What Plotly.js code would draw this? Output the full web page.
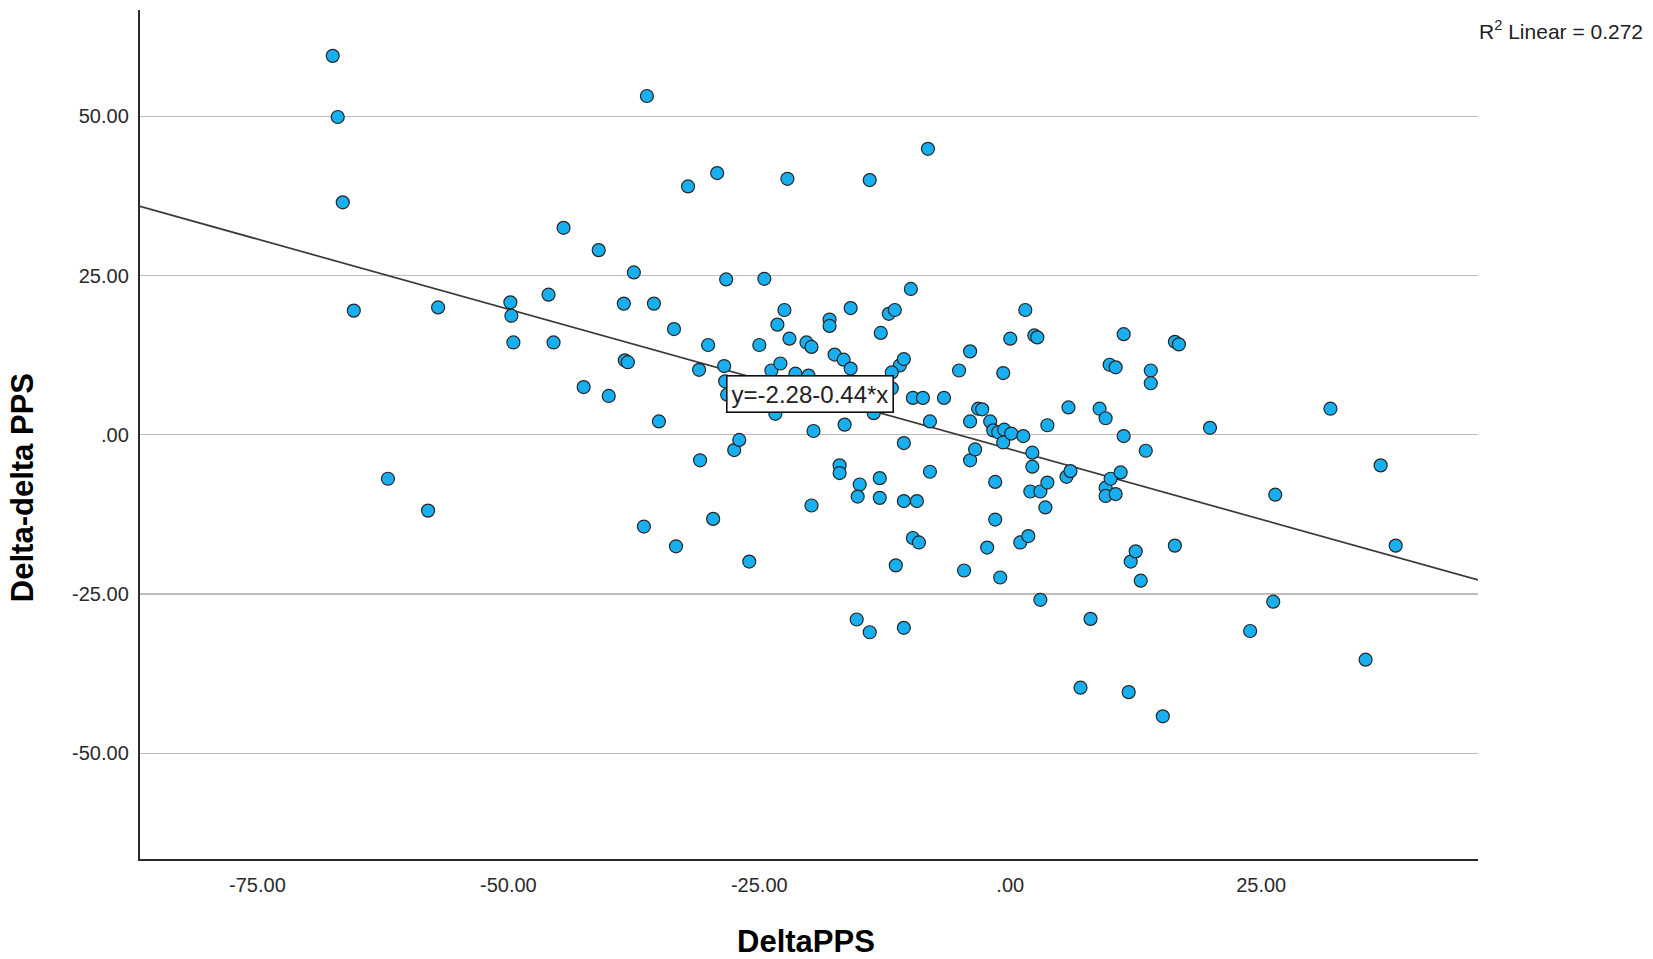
<!DOCTYPE html>
<html>
<head>
<meta charset="utf-8">
<script src="https://cdn.plot.ly/plotly-3.0.1.min.js"></script>
<style>html,body{margin:0;padding:0;background:#fff;}#chart{width:1653px;height:959px;}</style>
</head>
<body>
<div id="chart"></div>
<script>
// DeltaPPS (x) values
var deltaPPS = [
  -67.5,-67.0,-66.5,-65.4,-62.0,-58.0,-57.0,-49.8,-49.7,-49.5,
  -46.0,-45.5,-44.5,-42.5,-41.0,-40.0,-38.5,-38.4,-38.1,-37.5,
  -36.5,-36.2,-35.5,-35.0,-33.5,-33.3,-32.1,-31.0,-30.9,-30.1,
  -29.6,-29.2,-28.5,-28.4,-28.2,-28.3,-27.5,-27.0,-26.0,-25.0,
  -24.5,-23.8,-23.4,-23.2,-22.9,-22.5,-22.2,-22.0,-21.4,-20.3,
  -20.1,-19.8,-19.8,-19.6,-18.0,-18.0,-17.5,-17.0,-17.0,-16.6,
  -16.5,-15.9,-15.9,-15.3,-15.0,-15.2,-14.0,-14.0,-13.6,-13.0,
  -13.0,-12.9,-12.1,-11.8,-11.5,-11.4,-11.0,-11.8,-10.6,-10.6,
  -10.6,-10.6,-9.9,-9.7,-9.7,-9.1,-9.3,-8.7,-8.2,-8.0,
  -8.0,-6.6,-5.1,-4.6,-4.0,-4.0,-4.0,-3.5,-3.2,-2.8,
  -2.3,-2.0,-1.5,-1.5,-1.7,-1.2,-1.0,-0.7,-0.6,-0.7,
  0.0,0.1,1.0,1.3,1.5,1.8,2.2,2.2,2.0,2.4,
  2.7,3.0,3.0,3.5,3.7,3.7,5.6,5.8,6.0,7.0,
  8.0,8.9,9.5,9.5,9.5,9.9,10.0,10.5,10.5,11.0,
  11.3,11.3,11.8,12.0,12.5,13.0,13.5,14.0,14.0,15.2,
  16.4,16.4,16.8,19.9,23.9,26.2,26.4,31.9,35.4,36.9,
  38.4
];
// Delta-delta PPS (y) values
var deltaDeltaPPS = [
  59.5,49.9,36.5,19.5,-6.9,-11.9,20.0,20.8,18.7,14.5,
  22.0,14.5,32.5,7.5,29.0,6.1,20.6,11.7,11.4,25.5,
  -14.4,53.2,20.6,2.1,16.6,-17.5,39.0,10.2,-4.0,14.1,
  -13.2,41.1,10.8,8.4,6.3,24.4,-2.4,-0.8,-19.9,14.1,
  24.5,10.1,3.3,17.3,11.2,19.6,40.2,15.1,9.6,14.5,
  9.3,13.8,-11.1,0.6,18.1,17.1,12.6,-4.8,-6.0,11.8,
  1.6,10.4,19.9,-29.0,-7.8,-9.7,40.0,-31.0,3.4,-6.8,
  -9.9,16.0,19.0,7.3,19.6,-20.5,10.9,9.8,11.9,-1.3,
  -10.4,-30.3,22.9,5.8,-16.2,-16.9,-10.4,5.8,44.9,2.1,
  -5.8,5.8,10.1,-21.3,13.1,2.1,-4.0,-2.3,4.1,4.0,
  -17.7,2.1,-7.4,-13.3,0.7,0.4,-22.4,9.7,0.8,-1.2,
  15.1,0.2,-16.9,-0.2,19.6,-15.9,-2.8,-5.0,-8.9,15.6,
  15.3,-8.9,-25.9,-11.4,1.5,-7.5,-6.6,4.3,-5.7,-39.7,
  -28.9,4.1,2.6,-8.3,-9.6,11.0,-6.9,10.6,-9.3,-5.9,
  15.8,-0.2,-40.4,-19.9,-18.3,-22.9,-2.5,10.1,8.1,-44.2,
  -17.4,14.6,14.2,1.1,-30.8,-26.2,-9.4,4.1,-35.3,-4.8,
  -17.4
];
// Fit line end points (y = -2.28 - 0.44*x) at the axis limits
var fitX = [-86.7, 46.6];
var fitY = [35.87, -22.78];

var xTickVals = [-75, -50, -25, 0, 25];
var xTickText = ["-75.00", "-50.00", "-25.00", ".00", "25.00"];
var yTickVals = [50, 25, 0, -25, -50];
var yTickText = ["50.00", "25.00", ".00", "-25.00", "-50.00"];

var xTitle = "DeltaPPS";
var yTitle = "Delta-delta PPS";
var fitLabel = "y=-2.28-0.44*x";
var r2Label = "R<sup>2</sup> Linear = 0.272";

var FONT = "Liberation Sans, Arial, Helvetica, sans-serif";

var traces = [
  {
    type: "scatter", mode: "lines",
    x: fitX, y: fitY,
    line: {color: "#3a3a3a", width: 1.7},
    hoverinfo: "skip", showlegend: false
  },
  {
    type: "scatter", mode: "markers",
    x: deltaPPS, y: deltaDeltaPPS,
    marker: {size: 13, color: "#17AFEF", line: {color: "#262626", width: 1.2}},
    showlegend: false
  }
];

var layout = {
  width: 1653, height: 959,
  margin: {l: 140, r: 175, t: 10, b: 100, pad: 0},
  paper_bgcolor: "#ffffff", plot_bgcolor: "#ffffff",
  font: {family: FONT, color: "#222"},
  showlegend: false,
  xaxis: {
    range: [-86.7, 46.6],
    tickmode: "array", tickvals: xTickVals, ticktext: xTickText,
    tickfont: {size: 20, color: "#2a2a2a", family: FONT},
    ticks: "", showgrid: false, zeroline: false,
    showline: true, linecolor: "#2b2b2b", linewidth: 2.2,
    ticklabelstandoff: 7,
    automargin: false
  },
  yaxis: {
    range: [-66.6, 66.7],
    tickmode: "array", tickvals: yTickVals, ticktext: yTickText,
    tickfont: {size: 20, color: "#2a2a2a", family: FONT},
    ticks: "", showgrid: true, gridcolor: "#bdbdbd", gridwidth: 1.3,
    zeroline: false,
    showline: true, linecolor: "#2b2b2b", linewidth: 2.2,
    ticklabelstandoff: 5,
    automargin: false
  },
  annotations: [
    {
      xref: "x", yref: "y", x: -20.0, y: 6.4,
      text: fitLabel, showarrow: false,
      font: {size: 24, color: "#222", family: FONT},
      bgcolor: "#ffffff", bordercolor: "#111111", borderwidth: 1.6, borderpad: 4,
      xanchor: "center", yanchor: "middle"
    },
    {
      xref: "paper", yref: "paper", x: 0.9993, y: 0.976,
      text: r2Label, showarrow: false,
      font: {size: 21, color: "#222", family: FONT},
      xanchor: "left", yanchor: "middle"
    },
    {
      xref: "paper", yref: "paper", x: 0.498, y: -0.097,
      text: "<b>" + xTitle + "</b>", showarrow: false,
      font: {size: 31, color: "#000", family: FONT},
      xanchor: "center", yanchor: "middle"
    },
    {
      xref: "paper", yref: "paper", x: -0.0882, y: 0.438,
      text: "<b>" + yTitle + "</b>", showarrow: false, textangle: -90,
      font: {size: 31, color: "#000", family: FONT},
      xanchor: "center", yanchor: "middle"
    }
  ]
};

Plotly.newPlot("chart", traces, layout, {staticPlot: true, displayModeBar: false});
</script>
</body>
</html>
